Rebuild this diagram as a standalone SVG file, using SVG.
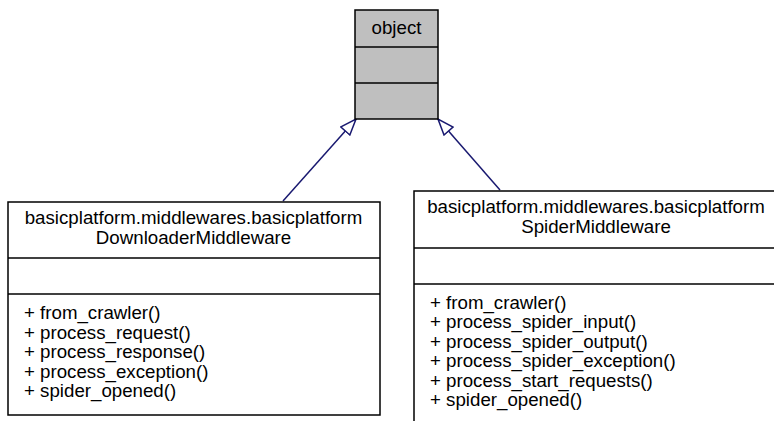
<svg xmlns="http://www.w3.org/2000/svg" width="774" height="421" viewBox="0 0 774 421">
<defs>
<style>
.box{fill:#ffffff;stroke:#000000;stroke-width:1.5}
.gray{fill:#bfbfbf;stroke:#000000;stroke-width:1.5}
.sep{stroke:#000000;stroke-width:1.5;fill:none}
text{font-family:"Liberation Sans",Arial,Helvetica,sans-serif;font-size:18.7px;fill:#000000}
.c{text-anchor:middle}
.edge{stroke:#191970;stroke-width:1.5;fill:none;marker-end:url(#inh)}
</style>
<marker id="inh" viewBox="0 0 18 14" refX="17" refY="7" markerWidth="18" markerHeight="14" orient="auto" markerUnits="userSpaceOnUse">
<path d="M1,1 L17,7 L1,13 Z" fill="#ffffff" stroke="#191970" stroke-width="1.5"/>
</marker>
</defs>
<rect width="774" height="421" fill="#ffffff"/>
<g id="connectors">
<path class="edge" d="M283,201 L356,119"/>
<path class="edge" d="M500,190 L438,119"/>
</g>
<g id="object">
<rect class="gray" x="355" y="10" width="83" height="109"/>
<line class="sep" x1="355" y1="47" x2="438" y2="47"/>
<line class="sep" x1="355" y1="83" x2="438" y2="83"/>
<text class="c" x="396.5" y="34">object</text>
</g>
<g id="DownloaderMiddleware">
<rect class="box" x="8" y="202" width="372" height="213"/>
<line class="sep" x1="8" y1="258" x2="380" y2="258"/>
<line class="sep" x1="8" y1="294" x2="380" y2="294"/>
<text class="c" x="193.5" y="224">basicplatform.middlewares.basicplatform</text>
<text class="c" x="193.5" y="244">DownloaderMiddleware</text>
<text x="24" y="319">+ from_crawler()</text>
<text x="24" y="338.5">+ process_request()</text>
<text x="24" y="358">+ process_response()</text>
<text x="24" y="377.5">+ process_exception()</text>
<text x="24" y="397">+ spider_opened()</text>
</g>
<g id="SpiderMiddleware">
<rect class="box" x="414" y="191" width="370" height="240"/>
<line class="sep" x1="414" y1="248" x2="784" y2="248"/>
<line class="sep" x1="414" y1="284" x2="784" y2="284"/>
<text class="c" x="596" y="213">basicplatform.middlewares.basicplatform</text>
<text class="c" x="596" y="233">SpiderMiddleware</text>
<text x="430" y="308.5">+ from_crawler()</text>
<text x="430" y="328">+ process_spider_input()</text>
<text x="430" y="347.5">+ process_spider_output()</text>
<text x="430" y="367">+ process_spider_exception()</text>
<text x="430" y="386.5">+ process_start_requests()</text>
<text x="430" y="406">+ spider_opened()</text>
</g>
</svg>
